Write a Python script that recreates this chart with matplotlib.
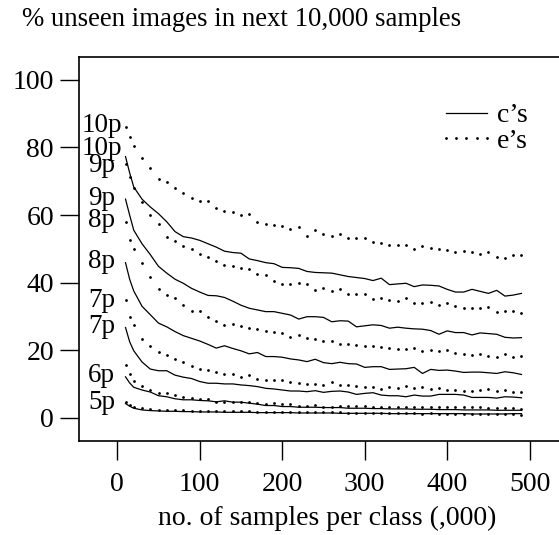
import matplotlib
matplotlib.use("Agg")
import matplotlib.pyplot as plt

plt.rcParams['font.family'] = ['Liberation Serif', 'DejaVu Serif']
plt.rcParams['font.size'] = 20

# samples per class (,000)
x = [10, 15] + list(range(20, 500, 10))

e10 = [86.2, 83.2, 80.3, 77.0, 73.9, 70.7, 69.8, 67.9, 66.6, 65.1,
       64.3, 64.3, 62.0, 61.2, 60.9, 60.0, 60.2, 58.0, 57.4, 57.1,
       56.8, 55.9, 56.4, 53.8, 55.6, 54.4, 53.8, 54.4, 53.1, 53.1,
       53.1, 52.0, 51.6, 51.1, 51.1, 51.1, 50.0, 50.8, 50.2, 49.9,
       49.7, 49.1, 49.4, 49.0, 48.5, 49.1, 47.6, 47.2, 48.2, 48.2]
c10 = [77.3, 72.5, 68.3, 64.7, 62.4, 60.4, 58.0, 55.1, 53.6, 53.2,
       52.5, 51.5, 50.5, 49.3, 48.9, 48.7, 47.0, 46.5, 45.9, 45.6,
       44.5, 44.4, 44.2, 43.3, 43.0, 42.9, 42.8, 42.3, 41.8, 41.5,
       41.2, 40.6, 41.3, 39.4, 39.6, 39.8, 38.8, 39.3, 39.2, 39.0,
       38.0, 37.2, 37.2, 38.0, 37.4, 36.8, 37.7, 36.0, 36.3, 36.8]
e9 = [75.0, 71.2, 68.0, 63.9, 60.0, 57.4, 53.6, 52.2, 50.8, 50.0,
      48.5, 47.5, 46.3, 45.1, 44.9, 44.3, 44.1, 42.6, 42.3, 40.5,
      39.6, 39.7, 40.0, 39.6, 37.8, 38.3, 37.5, 38.1, 36.7, 36.7,
      36.7, 35.1, 35.4, 34.9, 34.6, 35.4, 34.1, 33.9, 34.4, 33.4,
      34.1, 33.1, 32.6, 32.6, 32.6, 32.9, 31.4, 31.6, 31.6, 31.1]
c9 = [64.7, 60.0, 55.5, 51.5, 48.3, 44.8, 42.8, 41.0, 39.8, 38.3,
      37.2, 36.2, 36.1, 35.6, 34.5, 33.3, 32.4, 31.9, 31.4, 31.4,
      30.9, 30.4, 29.2, 29.9, 29.9, 29.7, 28.4, 28.7, 28.6, 26.9,
      27.2, 27.5, 27.3, 26.5, 26.8, 26.5, 26.3, 26.2, 25.8, 24.7,
      25.7, 25.2, 25.2, 24.5, 25.1, 24.9, 24.7, 23.8, 23.6, 23.7]
e8 = [58.0, 52.6, 50.0, 45.9, 41.6, 38.1, 36.3, 35.4, 33.4, 31.6,
      31.6, 29.7, 28.6, 27.5, 27.7, 27.2, 26.7, 26.3, 25.8, 25.3,
      25.0, 23.8, 24.5, 23.5, 23.2, 22.8, 22.8, 21.8, 21.8, 21.5,
      21.3, 21.2, 21.0, 20.5, 20.3, 20.3, 20.7, 19.8, 20.0, 19.8,
      20.0, 19.2, 19.0, 18.6, 18.8, 18.3, 18.1, 18.8, 18.1, 18.3]
c8 = [45.9, 41.0, 37.5, 33.0, 30.5, 28.0, 26.9, 25.5, 24.3, 23.5,
      22.7, 21.7, 20.6, 21.3, 20.5, 19.8, 18.9, 19.3, 18.1, 18.1,
      17.9, 17.4, 17.1, 16.6, 17.3, 16.3, 16.0, 16.4, 16.0, 15.9,
      14.9, 15.1, 15.1, 14.3, 14.4, 14.5, 14.9, 13.1, 14.3, 14.0,
      14.1, 13.8, 13.4, 13.5, 13.5, 13.3, 13.1, 13.6, 13.3, 12.8]
e7 = [34.9, 29.9, 27.5, 23.3, 21.3, 19.4, 18.6, 17.3, 16.6, 15.4,
      14.4, 14.1, 13.4, 12.8, 13.0, 12.1, 12.6, 11.4, 11.2, 11.2,
      11.2, 10.5, 10.2, 9.9, 9.9, 9.7, 10.5, 9.7, 9.7, 9.4,
      9.0, 9.2, 8.5, 9.2, 8.9, 9.4, 8.9, 9.0, 8.5, 8.7,
      8.2, 8.2, 8.0, 7.9, 8.2, 8.4, 7.9, 8.2, 7.7, 7.7]
c7 = [26.7, 22.5, 19.8, 16.5, 14.4, 13.9, 13.9, 12.6, 12.0, 11.6,
      10.7, 10.2, 10.2, 10.0, 10.0, 9.7, 9.5, 9.2, 8.7, 8.5,
      8.2, 7.9, 7.9, 7.7, 8.0, 7.5, 7.8, 7.9, 7.6, 6.9,
      7.2, 7.4, 6.7, 6.5, 6.5, 6.2, 6.7, 6.4, 6.4, 6.9,
      6.9, 6.9, 6.7, 6.0, 6.0, 6.0, 5.8, 6.2, 6.1, 5.9]
e6 = [15.6, 12.8, 11.0, 9.5, 8.2, 7.4, 7.3, 6.7, 6.1, 5.7,
      5.6, 5.6, 4.7, 4.7, 4.6, 4.6, 4.6, 4.3, 4.1, 4.3,
      4.1, 4.1, 3.6, 3.5, 3.8, 3.3, 3.3, 3.5, 3.5, 3.5,
      3.5, 3.3, 3.1, 3.1, 3.1, 3.1, 3.1, 3.1, 3.1, 3.1,
      3.1, 3.1, 3.1, 3.3, 3.1, 2.8, 2.8, 2.8, 2.8, 2.5]
c6 = [12.1, 10.3, 9.0, 8.2, 7.6, 6.5, 6.2, 5.6, 5.3, 5.3,
      5.1, 5.0, 4.7, 5.0, 4.6, 4.6, 4.3, 4.0, 3.6, 3.6,
      3.3, 3.3, 3.1, 3.1, 3.1, 3.0, 3.0, 3.0, 2.8, 2.8,
      2.8, 2.7, 2.7, 2.6, 2.6, 2.6, 2.5, 2.5, 2.5, 2.4,
      2.4, 2.4, 2.3, 2.3, 2.3, 2.3, 2.2, 2.2, 2.2, 2.2]
e5 = [4.7, 3.9, 3.3, 2.8, 2.6, 2.4, 2.4, 2.2, 2.2, 2.1,
      2.1, 2.0, 2.0, 2.0, 1.9, 1.9, 1.9, 1.8, 1.8, 1.8,
      1.8, 1.7, 1.7, 1.7, 1.6, 1.6, 1.6, 1.6, 1.5, 1.5,
      1.5, 1.4, 1.4, 1.4, 1.3, 1.3, 1.3, 1.2, 1.3, 1.2,
      1.2, 1.1, 1.2, 1.1, 1.1, 1.0, 1.0, 1.1, 1.0, 0.9]
c5 = [4.2, 3.4, 2.8, 2.3, 2.1, 2.0, 1.9, 1.9, 1.8, 1.8,
      1.7, 1.7, 1.7, 1.6, 1.6, 1.6, 1.6, 1.5, 1.5, 1.5,
      1.5, 1.5, 1.4, 1.4, 1.4, 1.4, 1.4, 1.3, 1.3, 1.3,
      1.3, 1.3, 1.3, 1.2, 1.2, 1.2, 1.2, 1.2, 1.2, 1.2,
      1.2, 1.2, 1.2, 1.1, 1.1, 1.1, 1.1, 1.1, 1.2, 1.2]

c_series = [c10, c9, c8, c7, c6, c5]
e_series = [e10, e9, e8, e7, e6, e5]

# curve labels on the left and their heights
label_text = ["10p", "10p", "9p", "9p", "8p", "8p", "7p", "7p", "6p", "5p"]
label_y = [86.6, 79.8, 74.8, 65.0, 58.3, 46.1, 34.8, 27.1, 12.4, 4.4]

xticks = [0, 100, 200, 300, 400, 500]
yticks = [0, 20, 40, 60, 80, 100]

fig = plt.figure(figsize=(5.59, 5.35), dpi=100)
ax = fig.add_axes([0.1413, 0.1757, 0.8873, 0.7172])

for s in c_series:
    ax.plot(x, s, color='black', lw=0.9)
for s in e_series:
    ax.plot(x, s, color='black', ls='none', marker='o', ms=2.0, mew=0)

for t, yy in zip(label_text, label_y):
    ax.text(-19, yy, t, ha='center', va='center', fontsize=19.5)

ax.set_xlim(-46.4, 554.9)
ax.set_ylim(-6.9, 106.7)
ax.set_xticks(xticks)
ax.set_yticks(yticks)
ax.tick_params(axis='both', direction='out', length=14, width=1.0, labelsize=20)
ax.tick_params(axis='y', pad=4)
ax.tick_params(axis='x', pad=8)
for sp in ax.spines.values():
    sp.set_linewidth(1.2)

ax.set_xlabel("no. of samples per class (,000)", fontsize=20, labelpad=7)
fig.text(22 / 559, 1 - 26 / 535, "% unseen images in next 10,000 samples",
         ha='left', va='baseline', fontsize=19.3)

solid_h, = ax.plot([], [], color='black', lw=0.9)
dot_h, = ax.plot([], [], color='black', ls='none', marker='o', ms=2.0, mew=0)
ax.legend([solid_h, dot_h], ["c\u2019s", "e\u2019s"], loc='upper left',
          bbox_to_anchor=(0.672, 0.946), frameon=False, numpoints=5,
          handlelength=2.1, handletextpad=0.05, labelspacing=0.0, fontsize=20)

fig.savefig("out.png", dpi=100)
